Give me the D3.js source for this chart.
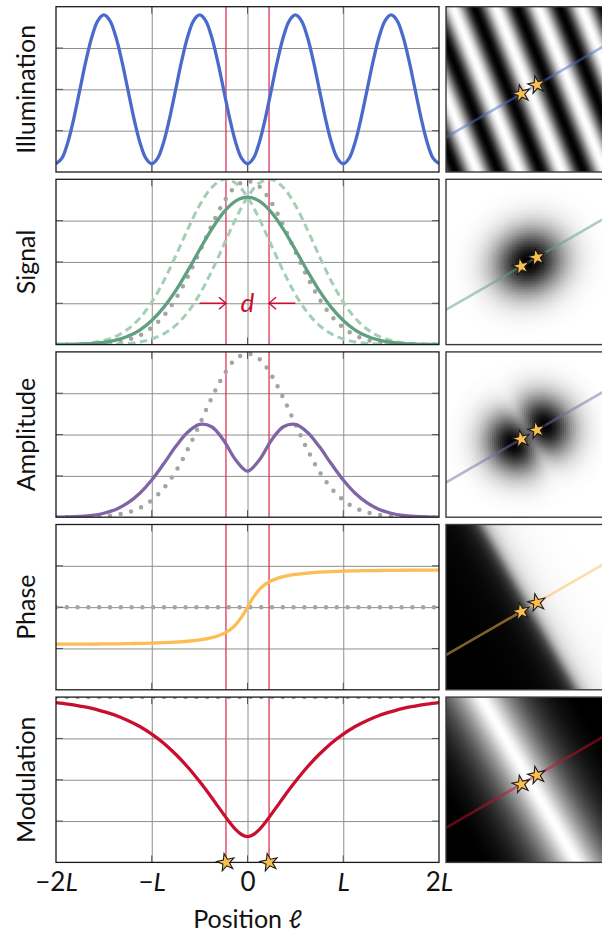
<!DOCTYPE html>
<html><head><meta charset="utf-8">
<script src="https://cdn.jsdelivr.net/npm/d3@7"></script>
<style>
body{margin:0;background:#fff;}
svg{display:block;font-family:Lato,'Open Sans',sans-serif;}
</style></head><body>
<svg id="chart" width="602" height="934"></svg>
<script>
// ---------------- data (in units of L) ----------------
const positions = [-2,-1.875,-1.75,-1.625,-1.5,-1.375,-1.25,-1.125,-1,-0.875,-0.75,-0.625,-0.5,-0.375,-0.25,-0.125,0,0.125,0.25,0.375,0.5,0.625,0.75,0.875,1,1.125,1.25,1.375,1.5,1.625,1.75,1.875,2];
const illumPositions = [-2,-1.9375,-1.875,-1.8125,-1.75,-1.6875,-1.625,-1.5625,-1.5,-1.4375,-1.375,-1.3125,-1.25,-1.1875,-1.125,-1.0625,-1,-0.9375,-0.875,-0.8125,-0.75,-0.6875,-0.625,-0.5625,-0.5,-0.4375,-0.375,-0.3125,-0.25,-0.1875,-0.125,-0.0625,0,0.0625,0.125,0.1875,0.25,0.3125,0.375,0.4375,0.5,0.5625,0.625,0.6875,0.75,0.8125,0.875,0.9375,1,1.0625,1.125,1.1875,1.25,1.3125,1.375,1.4375,1.5,1.5625,1.625,1.6875,1.75,1.8125,1.875,1.9375,2];
const illumination = [0.05,0.084,0.182,0.328,0.5,0.672,0.818,0.916,0.95,0.916,0.818,0.672,0.5,0.328,0.182,0.084,
  0.05,0.084,0.182,0.328,0.5,0.672,0.818,0.916,0.95,0.916,0.818,0.672,0.5,0.328,0.182,0.084,
  0.05,0.084,0.182,0.328,0.5,0.672,0.818,0.916,0.95,0.916,0.818,0.672,0.5,0.328,0.182,0.084,
  0.05,0.084,0.182,0.328,0.5,0.672,0.818,0.916,0.95,0.916,0.818,0.672,0.5,0.328,0.182,0.084,0.05];
const singleEmitter = [0,0,0.001,0.002,0.006,0.014,0.029,0.056,0.103,0.175,0.277,0.409,0.562,0.720,0.859,0.956,0.990,0.956,0.859,0.720,0.562,0.409,0.277,0.175,0.103,0.056,0.029,0.014,0.006,0.002,0.001,0,0];
const signalLeft = [0.001,0.002,0.005,0.012,0.025,0.050,0.093,0.160,0.257,0.384,0.536,0.696,0.843,0.950,0.999,0.978,0.892,0.758,0.600,0.443,0.304,0.195,0.116,0.065,0.034,0.016,0.007,0.003,0.001,0,0,0,0];
const signalRight = [0,0,0,0,0.001,0.003,0.007,0.016,0.034,0.065,0.116,0.195,0.304,0.443,0.600,0.758,0.892,0.978,0.999,0.950,0.843,0.696,0.536,0.384,0.257,0.160,0.093,0.050,0.025,0.012,0.005,0.002,0.001];
const signal = [0.001,0.001,0.003,0.006,0.013,0.027,0.050,0.088,0.146,0.225,0.326,0.446,0.574,0.697,0.800,0.868,0.892,0.868,0.800,0.697,0.574,0.446,0.326,0.225,0.146,0.088,0.050,0.027,0.013,0.006,0.003,0.001,0.001];
const amplitude = [0.001,0.002,0.005,0.011,0.024,0.047,0.086,0.145,0.225,0.323,0.427,0.514,0.561,0.547,0.466,0.348,0.279,0.348,0.466,0.547,0.561,0.514,0.427,0.323,0.225,0.145,0.086,0.047,0.024,0.011,0.005,0.002,0.001];
const finePositions = [-2,-1.875,-1.75,-1.625,-1.5,-1.375,-1.25,-1.125,-1,-0.875,-0.75,-0.625,-0.5,-0.375,-0.3125,-0.25,-0.1875,-0.125,-0.0625,0,0.0625,0.125,0.1875,0.25,0.3125,0.375,0.5,0.625,0.75,0.875,1,1.125,1.25,1.375,1.5,1.625,1.75,1.875,2];
const phase = [0.2759,0.2761,0.2764,0.2769,0.2774,0.2782,0.2792,0.2805,0.2823,0.2848,0.2884,0.2937,0.3018,0.3152,0.3256,0.3401,0.3611,0.3927,0.4393,0.5,0.5607,0.6073,0.6389,0.6599,0.6744,0.6848,0.6982,0.7063,0.7116,0.7152,0.7177,0.7195,0.7208,0.7218,0.7226,0.7231,0.7236,0.7239,0.7241];
const modulation = [0.967,0.958,0.946,0.932,0.912,0.889,0.859,0.822,0.776,0.721,0.654,0.577,0.489,0.393,0.342,0.292,0.243,0.200,0.169,0.156,0.169,0.200,0.243,0.292,0.342,0.393,0.489,0.577,0.654,0.721,0.776,0.822,0.859,0.889,0.912,0.932,0.946,0.958,0.967];
const phaseReference = 0.5;
const modulationReference = 1.0;
const emitterPositions = [-0.225, 0.225];
const panelLabels = ["Illumination","Signal","Amplitude","Phase","Modulation"];
const tickValues = [-2,-1,0,1,2];
const tickNumbers = ["\u22122","\u2212","0","","2"];
const tickUnits = ["L","L","","L","L"];
const xTitle = "Position \u2113";
const gridX = [-1,0,1];
const gridY = [0.25,0.5,0.75];

// ---------------- layout ----------------
const plotLeft = 56, plotRight = 439;
const panelTop0 = 6.7, panelH = 165.3, panelGap = 7.3;
const imgLeft = 446, imgSize = 166;
const lineAngleDeg = 30, fringeAngleDeg = 22, pxPerL = 40;
const deg = Math.PI/180;
const cosA = Math.cos(lineAngleDeg*deg), sinA = Math.sin(lineAngleDeg*deg);

const colors = {blue:"#4b6bcb", green:"#5fa07f", greenLight:"#a3cfb5", purple:"#7f65a5", orange:"#fcbd55", red:"#c8102e", marker:"#dc3558", gray:"#a4a4a4"};

const svg = d3.select("#chart");
const defs = svg.append("defs");
const x = d3.scaleLinear().domain([-2,2]).range([plotLeft, plotRight]);
const curve = d3.curveCatmullRom.alpha(0.5);

const panelTops = panelLabels.map((_,i)=> panelTop0 + i*(panelH+panelGap));

function makeY(i){ return d3.scaleLinear().domain([0,1]).range([panelTops[i]+panelH, panelTops[i]]); }

panelLabels.forEach((label,i)=>{
  const top = panelTops[i], bottom = top+panelH;
  const y = makeY(i);
  const g = svg.append("g");
  defs.append("clipPath").attr("id","clip"+i).append("rect")
    .attr("x",plotLeft).attr("y",top).attr("width",plotRight-plotLeft).attr("height",panelH);
  const gx = g.append("g").attr("transform",`translate(0,${bottom})`)
    .call(d3.axisBottom(x).tickValues(gridX).tickSize(-panelH).tickFormat(""));
  const gy = g.append("g").attr("transform",`translate(${plotLeft},0)`)
    .call(d3.axisLeft(y).tickValues(gridY).tickSize(-(plotRight-plotLeft)).tickFormat(""));
  [gx,gy].forEach(a=>{a.select(".domain").remove(); a.selectAll("line").attr("stroke","#8e8e8e").attr("stroke-width",1);});
  gridY.forEach(v=>{
    g.append("line").attr("x1",plotLeft).attr("x2",plotLeft+7).attr("y1",y(v)).attr("y2",y(v)).attr("stroke","#555").attr("stroke-width",1);
    g.append("line").attr("x1",plotRight-7).attr("x2",plotRight).attr("y1",y(v)).attr("y2",y(v)).attr("stroke","#555").attr("stroke-width",1);
  });
  gridX.forEach(v=>{
    g.append("line").attr("x1",x(v)).attr("x2",x(v)).attr("y1",bottom).attr("y2",bottom-7).attr("stroke","#555").attr("stroke-width",1);
    g.append("line").attr("x1",x(v)).attr("x2",x(v)).attr("y1",top).attr("y2",top+7).attr("stroke","#555").attr("stroke-width",1);
  });
  const cg = g.append("g").attr("clip-path",`url(#clip${i})`);
  emitterPositions.forEach(p=>{
    cg.append("line").attr("x1",x(p)).attr("x2",x(p)).attr("y1",top).attr("y2",bottom)
      .attr("stroke",colors.marker).attr("stroke-width",1.3);
  });
  const line = (xs)=> d3.line().x((d,k)=>x(xs[k])).y(d=>y(d)).curve(curve);
  const dotted = (sel)=> sel.attr("fill","none").attr("stroke",colors.gray).attr("stroke-width",4.5)
      .attr("stroke-linecap","round").attr("stroke-dasharray","0 10.8");
  if(i===0){
    cg.append("path").attr("d",line(illumPositions)(illumination)).attr("fill","none").attr("stroke",colors.blue).attr("stroke-width",3.3);
  } else if(i===1){
    cg.append("path").attr("d",line(positions)(singleEmitter)).call(dotted);
    [signalLeft,signalRight].forEach(s=>cg.append("path").attr("d",line(positions)(s)).attr("fill","none")
      .attr("stroke",colors.greenLight).attr("stroke-width",3).attr("stroke-dasharray","7.5 4.5"));
    cg.append("path").attr("d",line(positions)(signal)).attr("fill","none").attr("stroke",colors.green).attr("stroke-width",3.3);
    const ya = y(0.25);
    const arrow = (x0,x1)=>{
      cg.append("line").attr("x1",x0).attr("x2",x1).attr("y1",ya).attr("y2",ya).attr("stroke",colors.red).attr("stroke-width",1.4);
      const s = Math.sign(x1-x0);
      cg.append("path").attr("d",`M${x1-s*7},${ya-6} L${x1},${ya} L${x1-s*7},${ya+6}`).attr("fill","none").attr("stroke",colors.red).attr("stroke-width",1.4);
    };
    arrow(x(-0.5), x(emitterPositions[0]));
    arrow(x(0.5), x(emitterPositions[1]));
    g.append("text").attr("x",x(0)).attr("y",ya+9).attr("text-anchor","middle")
      .attr("font-size",26).attr("font-style","italic").attr("fill",colors.red).text("d");
  } else if(i===2){
    cg.append("path").attr("d",line(positions)(singleEmitter)).call(dotted);
    cg.append("path").attr("d",line(positions)(amplitude)).attr("fill","none").attr("stroke",colors.purple).attr("stroke-width",3.3);
  } else if(i===3){
    cg.append("path").attr("d",line([-2,2])([phaseReference,phaseReference])).call(dotted);
    cg.append("path").attr("d",line(finePositions)(phase)).attr("fill","none").attr("stroke",colors.orange).attr("stroke-width",3.3);
  } else {
    cg.append("path").attr("d",line([-2,2])([modulationReference,modulationReference])).call(dotted);
    cg.append("path").attr("d",line(finePositions)(modulation)).attr("fill","none").attr("stroke",colors.red).attr("stroke-width",3.3);
  }
  g.append("rect").attr("x",plotLeft).attr("y",top).attr("width",plotRight-plotLeft).attr("height",panelH)
    .attr("fill","none").attr("stroke","#1a1a1a").attr("stroke-width",1.3);
  svg.append("text").attr("transform",`translate(35,${top+panelH/2}) rotate(-90)`)
    .attr("text-anchor","middle").attr("font-size",25).attr("font-weight",400).attr("fill","#111").text(label);
});

// ---------------- x axis ----------------
const last = panelTops[4]+panelH;
const ax = svg.append("g").attr("transform",`translate(0,${last})`)
  .call(d3.axisBottom(x).tickValues(tickValues).tickSize(0).tickPadding(10).tickFormat(""));
ax.select(".domain").remove();
ax.selectAll(".tick text").each(function(d,k){
  const t = d3.select(this).attr("font-size",26).attr("font-family","Lato,'Open Sans',sans-serif").attr("fill","#111").attr("font-weight",400);
  t.append("tspan").text(tickNumbers[k]);
  t.append("tspan").attr("font-style","italic").text(tickUnits[k]);
});
svg.append("text").attr("x",x(0)).attr("y",928).attr("text-anchor","middle").attr("font-size",25).attr("font-weight",400).attr("fill","#111").text(xTitle);

const star = d3.symbol(d3.symbolStar, 95);
emitterPositions.forEach(p=>{
  svg.append("path").attr("d",star()).attr("transform",`translate(${x(p)},${last}) rotate(-12)`)
    .attr("fill","#fbbd4f").attr("stroke","#1a1a1a").attr("stroke-width",1.1);
});

// ---------------- images ----------------
const lookup = (xs, ys)=> d3.scaleLinear().domain(xs).range(ys).clamp(true);
const peak = d3.max(singleEmitter);
const psf = lookup(positions, singleEmitter.map(v=>v/peak));
const dPhase = 2*Math.PI*(emitterPositions[1]-emitterPositions[0]);
const lineColors = [colors.blue, colors.green, colors.purple, colors.orange, colors.red];

function addLinearGradient(id, xs, vals, color, cx, cy, dirx, diry, spanPx, spread){
  const lg = defs.append("linearGradient").attr("id",id).attr("gradientUnits","userSpaceOnUse")
    .attr("x1",cx-dirx*spanPx).attr("y1",cy-diry*spanPx).attr("x2",cx+dirx*spanPx).attr("y2",cy+diry*spanPx)
    .attr("spreadMethod",spread);
  const x0 = xs[0], x1 = xs[xs.length-1];
  xs.forEach((p,k)=> lg.append("stop").attr("offset",(p-x0)/(x1-x0)).attr("stop-color",color(vals[k])));
}

panelTops.forEach((top,i)=>{
  const cx = imgLeft+imgSize/2, cy = top+panelH/2;
  defs.append("clipPath").attr("id","iclip"+i).append("rect").attr("x",imgLeft).attr("y",top).attr("width",imgSize).attr("height",panelH);
  const g = svg.append("g").attr("clip-path",`url(#iclip${i})`);
  if(i===0){
    const b = fringeAngleDeg*deg;
    const P = pxPerL*Math.cos((lineAngleDeg-fringeAngleDeg)*deg);
    const col = d3.scaleLinear().domain(d3.extent(illumination)).range(["#fff","#000"]);
    addLinearGradient("gIllum", illumPositions, illumination, col, cx, cy, Math.cos(b), -Math.sin(b), 2*P, "repeat");
    g.append("rect").attr("x",imgLeft).attr("y",top).attr("width",imgSize).attr("height",panelH).attr("fill","url(#gIllum)");
  } else if(i===1 || i===2){
    const cells = [];
    const n = Math.ceil(imgSize/2);
    for(let r=0;r<n;r++) for(let c=0;c<n;c++){
      const px = imgLeft+c*2+1, py = top+r*2+1;
      const dx = px-cx, dy = py-cy;
      const u = (dx*cosA - dy*sinA)/pxPerL, v = (dx*sinA + dy*cosA)/pxPerL;
      const g1 = psf(Math.hypot(u-emitterPositions[0], v));
      const g2 = psf(Math.hypot(u-emitterPositions[1], v));
      const val = i===1 ? (g1+g2)/2 : Math.sqrt(Math.max(0,g1*g1+g2*g2+2*g1*g2*Math.cos(dPhase)));
      cells.push({x:px-1,y:py-1,v:val});
    }
    const col = d3.scalePow().exponent(0.72).domain([0, d3.max(cells,d=>d.v)]).range(["#fff","#000"]).clamp(true);
    g.selectAll("rect.cell").data(cells).join("rect").attr("class","cell")
      .attr("x",d=>d.x).attr("y",d=>d.y).attr("width",2.05).attr("height",2.05)
      .attr("fill",d=>col(d.v)).attr("shape-rendering","crispEdges");
  } else if(i===3){
    const col = d3.scaleLinear().domain(d3.extent(phase)).range(["#000","#fff"]);
    addLinearGradient("gPhase", finePositions, phase, col, cx, cy, cosA, -sinA, 2*pxPerL, "pad");
    g.append("rect").attr("x",imgLeft).attr("y",top).attr("width",imgSize).attr("height",panelH).attr("fill","url(#gPhase)");
  } else {
    const col = d3.scaleLinear().domain(d3.extent(modulation)).range(["#fff","#000"]);
    addLinearGradient("gMod", finePositions, modulation, col, cx, cy, cosA, -sinA, 2*pxPerL, "pad");
    g.append("rect").attr("x",imgLeft).attr("y",top).attr("width",imgSize).attr("height",panelH).attr("fill","url(#gMod)");
  }
  g.append("line").attr("x1",cx-200*cosA).attr("y1",cy+200*sinA).attr("x2",cx+200*cosA).attr("y2",cy-200*sinA)
    .attr("stroke",lineColors[i]).attr("stroke-opacity",0.5).attr("stroke-width",2.6);
  emitterPositions.forEach(p=>{
    g.append("path").attr("d",star()).attr("transform",`translate(${cx+p*pxPerL*cosA},${cy-p*pxPerL*sinA}) rotate(-12)`)
      .attr("fill","#fbbd4f").attr("stroke","#1a1a1a").attr("stroke-width",1.1);
  });
  svg.append("rect").attr("x",imgLeft).attr("y",top).attr("width",imgSize).attr("height",panelH)
    .attr("fill","none").attr("stroke","#3a3a3a").attr("stroke-width",1.4);
});
</script>
</body></html>
